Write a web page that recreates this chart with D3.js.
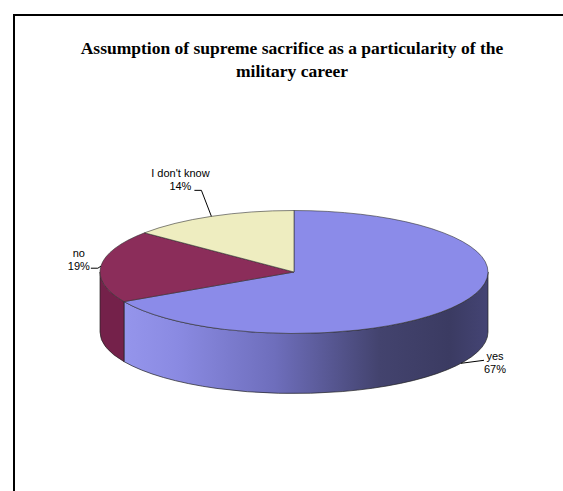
<!DOCTYPE html>
<html>
<head>
<meta charset="utf-8">
<script src="https://cdn.jsdelivr.net/npm/d3@7"></script>
<style>
  html, body { margin: 0; padding: 0; background: #fff; }
  svg { display: block; }
  .title { font-family: "Liberation Serif", "Times New Roman", serif; font-weight: bold; font-size: 17.5px; fill: #000; }
  .slice-label { font-family: "Liberation Sans", Arial, sans-serif; font-size: 11px; fill: #000; }
</style>
</head>
<body>
<div id="chart"></div>
<script>
// chart data
const categories = ["yes", "no", "I don't know"];
const values = [67, 19, 14];
const titleLines = ["Assumption of supreme sacrifice as a particularity of the", "military career"];

const topColors = ["#8b8be9", "#8b2d5a", "#eeedc0"];
const sideColors = ["url(#yesSide)", "#74214a", "#c9c89c"];

// where each label sits relative to its leader start (layout only)
const labelLayout = {
    "yes": { elbow: [23, -3], text: [34, -3], anchor: "middle" },
    "no": { elbow: [-3, 2], text: [-22, -9], anchor: "middle" },
    "I don't know": { elbow: [-10, -26], text: [-31, -39], anchor: "middle" }
};

const W = 563, H = 491;
const cx = 294, cy = 272, rx = 194, ry = 61.5, depth = 60;

const svg = d3.select("#chart").append("svg").attr("width", W).attr("height", H);

const defs = svg.append("defs");
const grad = defs.append("linearGradient").attr("id", "yesSide")
    .attr("gradientUnits", "userSpaceOnUse")
    .attr("x1", cx - rx).attr("x2", cx + rx).attr("y1", 0).attr("y2", 0);
[[0, "#9a9af0"], [0.2, "#8a8ae2"], [0.45, "#6e6ebc"], [0.72, "#43436e"], [0.9, "#3b3b62"], [1, "#444474"]]
    .forEach(([o, c]) => grad.append("stop").attr("offset", o).attr("stop-color", c));

// frame
svg.append("rect")
    .attr("x", 14).attr("y", 15).attr("width", W + 10).attr("height", H + 10)
    .attr("fill", "none").attr("stroke", "#000").attr("stroke-width", 2);

// title
svg.append("g").selectAll("text").data(titleLines).join("text")
    .attr("class", "title")
    .attr("x", 292).attr("y", (d, i) => 54 + i * 23)
    .attr("text-anchor", "middle")
    .text(d => d);

// pie angles (clockwise from 12 o'clock)
const pie = d3.pie().sort(null).value(d => d.value);
const arcs = pie(categories.map((c, i) => ({ name: c, value: values[i], i })));

const pt = (a, dy = 0) => [cx + rx * Math.sin(a), cy - ry * Math.cos(a) + dy];

function topPath(d) {
    const p0 = pt(d.startAngle), p1 = pt(d.endAngle);
    const large = d.endAngle - d.startAngle > Math.PI ? 1 : 0;
    return `M${cx},${cy}L${p0}A${rx},${ry} 0 ${large} 1 ${p1}Z`;
}

function sidePath(d) {
    const a0 = Math.max(d.startAngle, Math.PI / 2);
    const a1 = Math.min(d.endAngle, Math.PI * 1.5);
    if (a1 <= a0) return null;
    const t0 = pt(a0), t1 = pt(a1), b0 = pt(a0, depth), b1 = pt(a1, depth);
    return `M${t0}A${rx},${ry} 0 0 1 ${t1}L${b1}A${rx},${ry} 0 0 0 ${b0}Z`;
}

const pieG = svg.append("g");
pieG.selectAll(".side").data(arcs.filter(d => sidePath(d))).join("path")
    .attr("class", "side")
    .attr("d", sidePath)
    .attr("fill", d => sideColors[d.data.i])
    .attr("stroke", "#222").attr("stroke-width", 0.7);

pieG.selectAll(".top").data(arcs).join("path")
    .attr("class", "top")
    .attr("d", topPath)
    .attr("fill", d => topColors[d.data.i])
    .attr("stroke", "#333").attr("stroke-width", 0.6);

// labels with leader lines
const labelG = svg.append("g");
arcs.forEach(d => {
    const mid = (d.startAngle + d.endAngle) / 2;
    const front = Math.cos(mid) < 0;
    const s = pt(mid, front ? depth : 0);
    const L = labelLayout[d.data.name];
    const e = [s[0] + L.elbow[0], s[1] + L.elbow[1]];
    const h = [e[0] + (L.text[0] > 0 ? 0 : -7), e[1]];
    labelG.append("path")
        .attr("d", `M${s}L${e}L${h}`)
        .attr("fill", "none").attr("stroke", "#000").attr("stroke-width", 1);
    const t = labelG.append("text")
        .attr("class", "slice-label")
        .attr("text-anchor", L.anchor)
        .attr("x", s[0] + L.text[0]).attr("y", s[1] + L.text[1]);
    t.append("tspan").attr("x", s[0] + L.text[0]).attr("dy", 0).text(d.data.name);
    t.append("tspan").attr("x", s[0] + L.text[0]).attr("dy", 13).text(d.data.value + "%");
});
</script>
</body>
</html>
